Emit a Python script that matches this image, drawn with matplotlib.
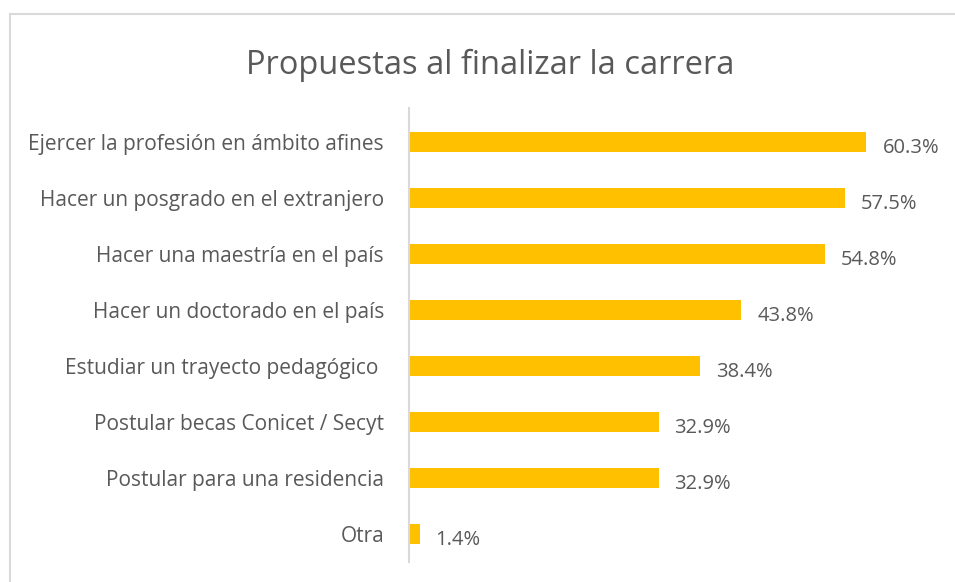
import matplotlib
matplotlib.use("Agg")
import matplotlib.pyplot as plt
from matplotlib.lines import Line2D

categories = [
    "Ejercer la profesión en ámbito afines",
    "Hacer un posgrado en el extranjero",
    "Hacer una maestría en el país",
    "Hacer un doctorado en el país",
    "Estudiar un trayecto pedagógico ",
    "Postular becas Conicet / Secyt",
    "Postular para una residencia",
    "Otra",
]
values = [60.3, 57.5, 54.8, 43.8, 38.4, 32.9, 32.9, 1.4]
title = "Propuestas al finalizar la carrera"

bar_color = "#FFC000"
text_color = "#595959"
font = ["Open Sans", "DejaVu Sans"]

fig = plt.figure(figsize=(9.55, 5.82), dpi=100)
fig.patch.set_facecolor("white")

# outer chart frame (only top and left edges fall inside the image)
fig.add_artist(Line2D([9.5 / 955, 9.5 / 955], [0, 1 - 14 / 582],
                      transform=fig.transFigure, color="#D9D9D9", lw=1.5))
fig.add_artist(Line2D([9.5 / 955, 1], [1 - 14 / 582, 1 - 14 / 582],
                      transform=fig.transFigure, color="#D9D9D9", lw=1.5))

ax = fig.add_axes([409 / 955, 20 / 582, (940 - 409) / 955, (582 - 20 - 108) / 582])
pos = list(range(len(categories)))[::-1]
ax.barh(pos, values, height=0.36, color=bar_color, left=0)
ax.set_xlim(0, 70)
ax.set_ylim(-0.5, 7.6)

ax.set_yticks(pos)
ax.set_yticklabels(categories, family=font, fontsize=15, color=text_color)
ax.tick_params(axis="y", length=0, pad=18)
ax.set_xticks([])

for s in ["top", "right", "bottom"]:
    ax.spines[s].set_visible(False)
ax.spines["left"].set_color("#D9D9D9")
ax.spines["left"].set_linewidth(1.5)

for p, v in zip(pos, values):
    ax.annotate(f"{v:.1f}%", (v, p), xytext=(11.5, -4.5), textcoords="offset points",
                ha="left", va="center", family=font, fontsize=14.5, color=text_color)

fig.text(490 / 955, 1 - 65 / 582, title, ha="center", va="center",
         family=font, fontsize=23.5, color=text_color)

fig.savefig("out.png", dpi=100, facecolor="white")
